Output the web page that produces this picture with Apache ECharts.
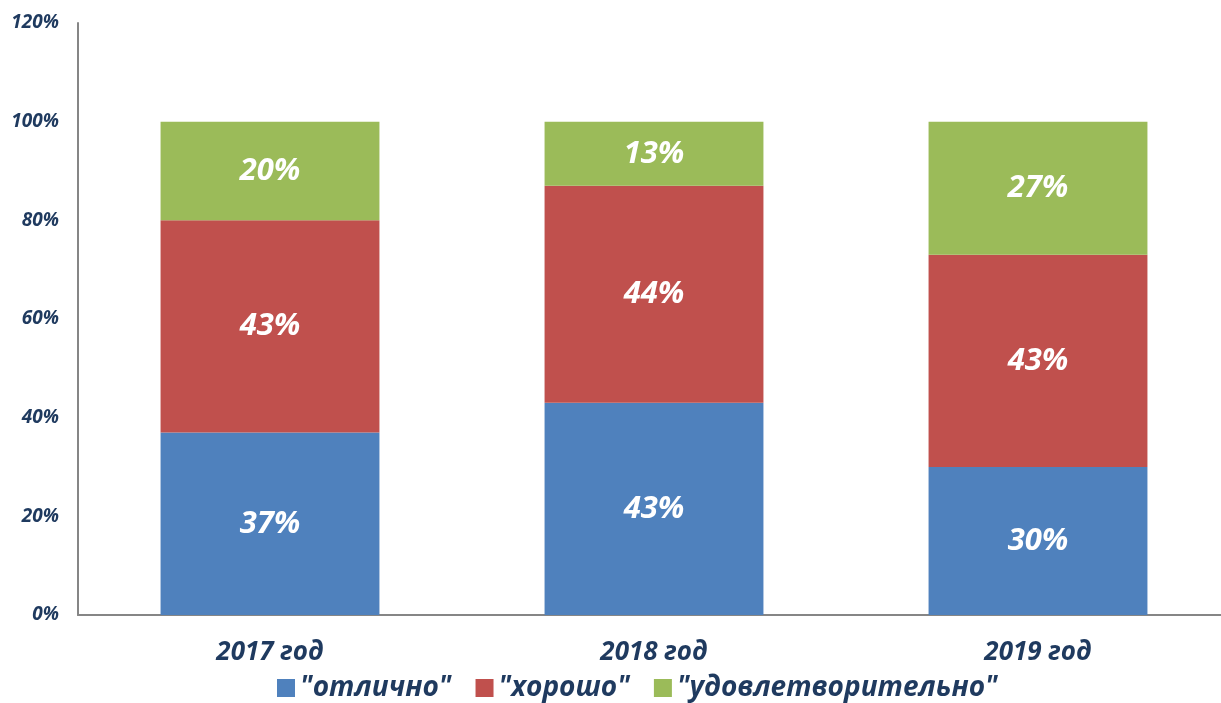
<!DOCTYPE html>
<html lang="ru">
<head>
    <meta charset="UTF-8">
    <title>Успеваемость</title>
    <script src="https://cdn.jsdelivr.net/npm/echarts@6/dist/echarts.min.js"></script>
    <style>
        html, body { margin: 0; padding: 0; background: #fff; }
    </style>
</head>
<body>
    <div id="chart" style="width: 1221px; height: 703px;"></div>
    <script>
        // данные
        var years = ['2017 год', '2018 год', '2019 год'];
        var excellent = [37, 43, 30];
        var good = [43, 44, 43];
        var satisfactory = [20, 13, 27];
        var seriesNames = ['"отлично"', '"хорошо"', '"удовлетворительно"'];

        var font = 'Open Sans';
        var textColor = '#1F3A5F';

        var chart = echarts.init(document.getElementById('chart'));

        function makeSeries(name, values, color) {
            return {
                name: name,
                type: 'bar',
                stack: 'total',
                barWidth: '57%',
                data: values,
                itemStyle: { color: color },
                label: {
                    show: true,
                    position: 'inside',
                    formatter: '{c}%',
                    color: '#fff',
                    fontFamily: font,
                    fontStyle: 'italic',
                    fontWeight: 'bold',
                    fontSize: 31
                }
            };
        }

        var option = {
            animation: false,
            // сетка чуть шире окна, как в исходной картинке
            grid: { left: 78, width: 1152, top: 23, bottom: 88, outerBoundsMode: 'none' },
            legend: {
                bottom: -4,
                left: 272,
                itemWidth: 18,
                itemHeight: 18,
                itemGap: 24,
                icon: 'rect',
                textStyle: {
                    color: textColor,
                    fontFamily: font,
                    fontStyle: 'italic',
                    fontWeight: 'bold',
                    fontSize: 28
                },
                data: seriesNames
            },
            xAxis: {
                type: 'category',
                data: years,
                axisLine: { lineStyle: { color: '#868686', width: 2 } },
                axisTick: { show: false },
                axisLabel: {
                    margin: 25,
                    color: textColor,
                    fontFamily: font,
                    fontStyle: 'italic',
                    fontWeight: 'bold',
                    fontSize: 26
                }
            },
            yAxis: {
                type: 'value',
                min: 0,
                max: 120,
                interval: 20,
                axisLine: { show: true, lineStyle: { color: '#868686', width: 2 } },
                axisTick: { show: false },
                splitLine: { show: false },
                axisLabel: {
                    margin: 19,
                    formatter: '{value}%',
                    color: textColor,
                    fontFamily: font,
                    fontStyle: 'italic',
                    fontWeight: 'bold',
                    fontSize: 19
                }
            },
            series: [
                makeSeries(seriesNames[0], excellent, '#4F81BD'),
                makeSeries(seriesNames[1], good, '#C0504D'),
                makeSeries(seriesNames[2], satisfactory, '#9BBB59')
            ]
        };

        chart.setOption(option);
    </script>
</body>
</html>
